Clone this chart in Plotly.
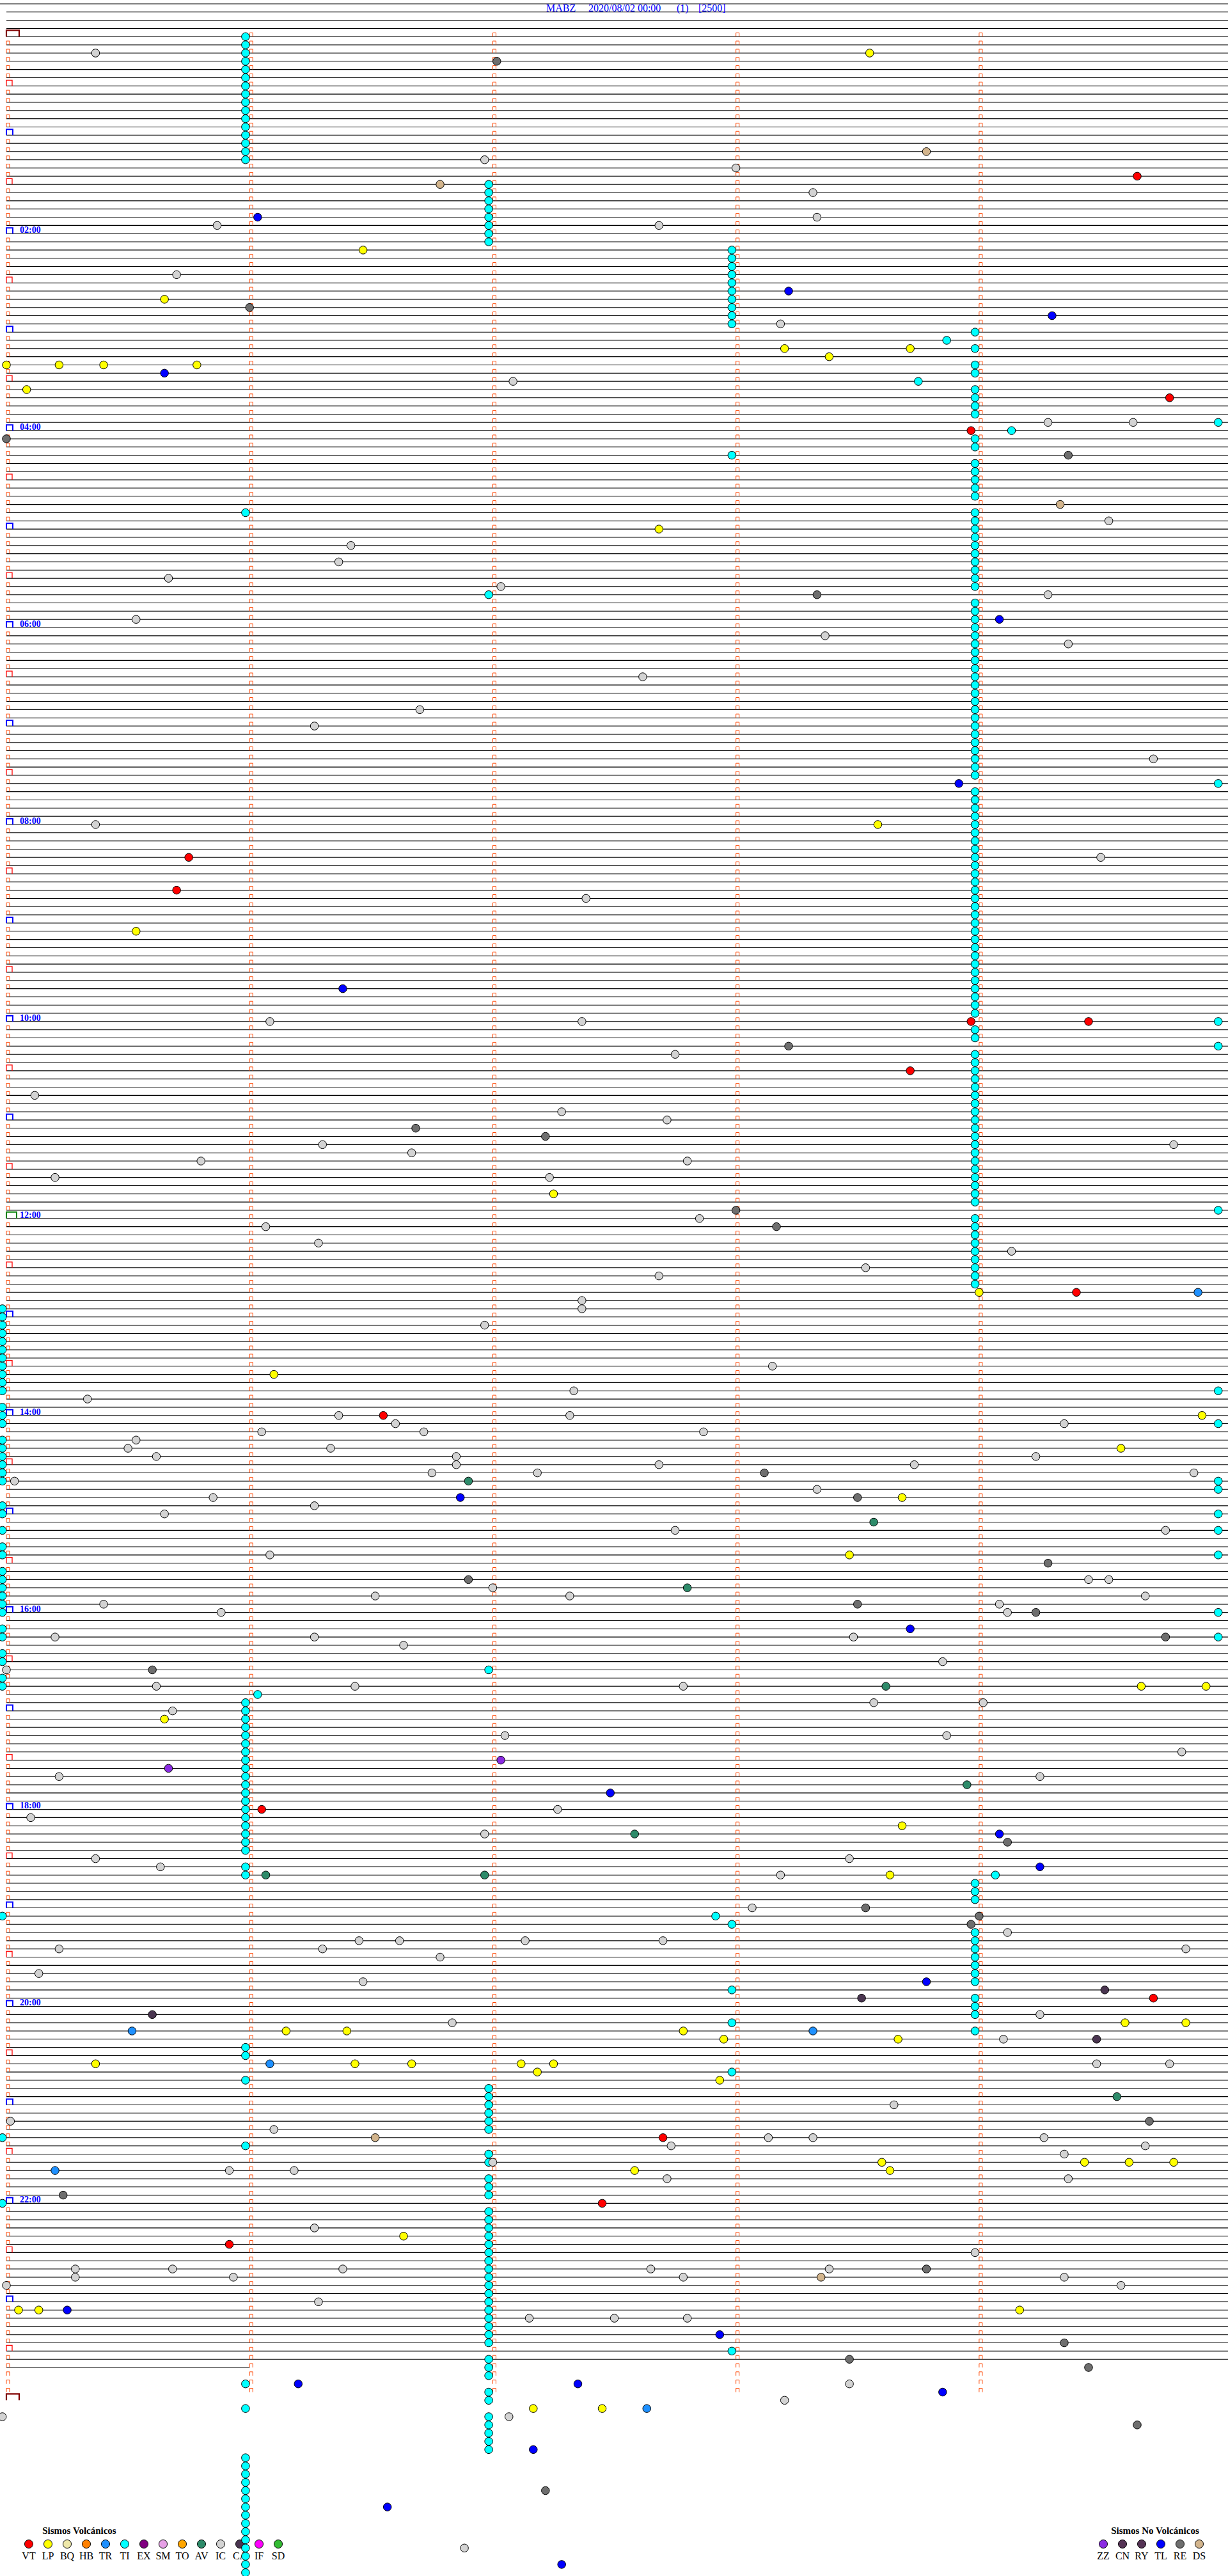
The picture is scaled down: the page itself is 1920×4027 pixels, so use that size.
import plotly.graph_objects as go

# ====================== DATA ======================
STATION = "MABZ"
DATE_LABEL = "2020/08/02 00:00"
CHANNEL_LABEL = "(1)"
SCALE_LABEL = "[2500]"

ROW_SECONDS = 300                       # one helicorder row = 5 minutes
MINUTE_MARKS = [0, 60, 120, 180, 240]   # minute ticks inside a row (s)
HOUR_LABELS = ["02:00", "04:00", "06:00", "08:00", "10:00", "12:00",
               "14:00", "16:00", "18:00", "20:00", "22:00"]
LAST_FULL_ROW = 283        # last complete trace row (23:35)
PARTIAL_ROW = 284          # trace stops inside this row
PARTIAL_ROW_END_SEC = 60
LAST_TICK_ROW = 287        # minute ticks drawn up to 23:55

VOLC_TYPES = ["VT", "LP", "BQ", "HB", "TR", "TI", "EX", "SM", "TO", "AV", "IC", "CA", "IF", "SD"]
NONVOLC_TYPES = ["ZZ", "CN", "RY", "TL", "RE", "DS"]
TYPE_COLORS = {
    "VT": "#FF0000", "LP": "#FFFF00", "BQ": "#EEE8AA", "HB": "#FF8000",
    "TR": "#1E90FF", "TI": "#00FFFF", "EX": "#800080", "SM": "#E6A0E6",
    "TO": "#FFA500", "AV": "#2E8B6A", "IC": "#D3D3D3", "CA": "#4A3550",
    "IF": "#FF00FF", "SD": "#33BB33",
    "ZZ": "#8A2BE2", "CN": "#553355", "RY": "#553355", "TL": "#0000FF",
    "RE": "#6E6E6E", "DS": "#D2B48C",
}

# events: (row index from 00:00 in 5-min rows, seconds inside the row)
EV_TI = [
    (0, 59), (1, 59), (2, 59), (3, 59), (4, 59), (5, 59), (6, 59), (7, 59),
    (8, 59), (9, 59), (10, 59), (11, 59), (12, 59), (13, 59), (14, 59), (15, 59),
    (18, 119), (19, 119), (20, 119), (21, 119), (22, 119), (23, 119), (24, 119), (25, 119),
    (26, 179), (27, 179), (28, 179), (29, 179), (30, 179), (31, 179), (32, 179), (33, 179),
    (34, 179), (35, 179),
    (36, 239), (37, 232), (38, 239), (40, 239), (41, 239), (42, 225), (43, 239), (44, 239),
    (45, 239), (46, 239), (47, 299), (48, 248), (49, 239), (50, 239), (51, 179), (52, 239),
    (53, 239), (54, 239), (55, 239), (56, 239), (58, 59), (58, 239), (59, 239), (60, 239),
    (61, 239), (62, 239), (63, 239), (64, 239), (65, 239), (66, 239), (67, 239), (68, 119),
    (69, 239), (70, 239), (71, 239), (72, 239), (73, 239), (74, 239), (75, 239), (76, 239),
    (77, 239), (78, 239), (79, 239), (80, 239), (81, 239), (82, 239), (83, 239), (84, 239),
    (85, 239), (86, 239), (87, 239), (88, 239), (89, 239), (90, 239), (91, 299), (92, 239),
    (93, 239), (94, 239), (95, 239), (96, 239), (97, 239), (98, 239), (99, 239), (100, 239),
    (101, 239), (102, 239), (103, 239), (104, 239), (105, 239), (106, 239), (107, 239),
    (108, 239), (109, 239), (110, 239), (111, 239), (112, 239), (113, 239), (114, 239),
    (115, 239), (116, 239), (117, 239), (118, 239), (119, 239), (120, 299), (121, 239),
    (122, 239), (123, 299), (124, 239), (125, 239), (126, 239), (127, 239), (128, 239),
    (129, 239), (130, 239), (131, 239), (132, 239), (133, 239), (134, 239), (135, 239),
    (136, 239), (137, 239), (138, 239), (139, 239), (140, 239), (141, 239), (142, 239),
    (143, 299), (144, 239), (145, 239), (146, 239), (147, 239), (148, 239), (149, 239),
    (150, 239), (151, 239), (152, 239),
    (155, -1), (156, -1), (157, -1), (158, -1), (159, -1), (160, -1), (161, -1), (162, -1),
    (163, -1), (164, -1), (165, -1), (165, 299), (167, -1), (168, -1), (169, -1), (169, 299),
    (171, -1), (172, -1), (173, -1), (174, -1), (175, -1), (176, -1), (176, 299), (177, 299),
    (179, -1), (180, -1), (180, 299), (182, -1), (182, 299), (184, -1), (185, -1), (185, 299),
    (187, -1), (188, -1), (189, -1), (190, -1), (191, -1), (192, -1), (192, 299), (194, -1),
    (195, -1), (195, 299), (197, -1), (198, -1), (199, 119), (200, -1), (201, -1), (202, 62),
    (203, 59), (204, 59), (205, 59), (206, 59), (207, 59), (208, 59), (209, 59), (210, 59),
    (211, 59), (212, 59), (213, 59), (214, 59), (215, 59), (216, 59), (217, 59), (218, 59),
    (219, 59), (220, 59), (221, 59), (223, 59), (224, 59), (224, 244), (225, 239), (226, 239),
    (227, 239), (229, -1), (229, 175), (230, 179), (231, 239), (232, 239), (233, 239),
    (234, 239), (235, 239), (236, 239), (237, 239), (238, 179), (239, 239), (240, 239),
    (241, 239), (242, 179), (243, 239), (245, 59), (246, 59), (248, 179), (249, 59),
    (250, 119), (251, 119), (252, 119), (253, 119), (254, 119), (255, 119), (256, -1),
    (257, 59), (258, 119), (259, 119), (261, 119), (262, 119), (263, 119), (264, -1),
    (265, 119), (266, 119), (267, 119), (268, 119), (269, 119), (270, 119), (271, 119),
    (272, 119), (273, 119), (274, 119), (275, 119), (276, 119), (277, 119), (278, 119),
    (279, 119), (280, 119), (281, 119), (282, 179), (283, 119), (284, 119), (285, 119),
    (286, 59), (287, 119), (288, 119), (289, 59), (290, 119), (291, 119), (292, 119),
    (293, 119), (294, 119), (295, 59), (296, 59), (297, 59), (298, 59), (299, 59),
    (300, 59), (301, 59), (302, 59), (303, 59), (304, 59), (305, 59), (306, 59), (307, 59),
    (308, 59), (309, 59),
]

EV_IC = [
    (2, 22), (15, 118), (16, 180), (19, 199), (22, 200), (23, 52), (23, 161), (29, 42),
    (35, 191), (42, 125), (47, 257), (47, 278), (59, 272), (62, 85), (64, 82), (66, 40),
    (67, 122), (68, 257), (71, 32), (73, 202), (74, 262), (78, 157), (82, 102), (84, 76),
    (88, 283), (96, 22), (100, 270), (105, 143), (120, 65), (120, 142), (124, 165), (129, 7),
    (131, 137), (132, 163), (135, 78), (135, 288), (136, 100), (137, 48), (137, 168),
    (139, 12), (139, 134), (144, 171), (145, 64), (147, 77), (148, 248), (150, 212),
    (151, 161), (154, 142), (155, 142), (157, 118), (162, 189), (165, 140), (166, 20),
    (168, 82), (168, 139), (169, 96), (169, 261), (170, 63), (170, 103), (170, 172),
    (171, 32), (172, 30), (172, 80), (173, 37), (173, 111), (173, 254), (174, 111),
    (174, 161), (174, 224), (175, 105), (175, 131), (175, 293), (176, 2), (177, 200),
    (178, 51), (179, 76), (180, 39), (182, 165), (182, 286), (185, 65), (188, 267),
    (188, 272), (189, 120), (190, 91), (190, 139), (190, 281), (191, 24), (191, 245),
    (192, 53), (192, 247), (195, 12), (195, 76), (195, 209), (196, 98), (198, 231),
    (199, 0), (201, 37), (201, 86), (201, 167), (203, 214), (203, 241), (204, 41),
    (207, 123), (207, 232), (209, 290), (212, 13), (212, 255), (216, 136), (217, 6),
    (219, 118), (222, 22), (222, 208), (223, 38), (224, 191), (228, 184), (231, 247),
    (232, 87), (232, 97), (232, 128), (232, 162), (233, 13), (233, 78), (233, 291),
    (234, 107), (236, 8), (237, 88), (241, 255), (242, 110), (244, 246), (247, 269),
    (247, 287), (252, 219), (254, 1), (255, 66), (256, 188), (256, 199), (256, 256),
    (257, 164), (257, 281), (258, 261), (259, 120), (260, 55), (260, 71), (261, 163),
    (261, 262), (267, 76), (270, 239), (272, 17), (272, 41), (272, 83), (272, 159),
    (272, 203), (273, 17), (273, 56), (273, 167), (273, 261), (274, 0), (274, 275),
    (276, 77), (278, 129), (278, 150), (278, 168), (286, 208), (288, 192), (290, -1),
    (290, 124), (306, 113),
]

EV_LP = [
    (2, 213), (26, 88), (32, 39), (38, 192), (38, 223), (39, 203), (40, 0), (40, 13),
    (40, 24), (40, 47), (43, 5), (60, 161), (96, 215), (109, 32), (141, 135), (153, 240),
    (163, 66), (168, 295), (172, 275), (178, 221), (185, 208), (201, 280), (201, 296),
    (205, 39), (218, 221), (224, 218), (242, 276), (242, 291), (243, 69), (243, 84),
    (243, 167), (244, 177), (244, 220), (247, 22), (247, 86), (247, 100), (247, 127),
    (247, 135), (248, 131), (249, 176), (259, 216), (259, 266), (259, 277), (259, 288),
    (260, 155), (260, 218), (268, 98), (277, 3), (277, 8), (277, 250), (289, 130), (289, 147),
]

EV_VT = [
    (17, 279), (44, 287), (48, 238), (100, 45), (104, 42), (120, 238), (120, 267),
    (126, 223), (153, 264), (168, 93), (216, 63), (239, 283), (256, 162), (264, 147), (269, 55),
]

EV_TL = [
    (22, 62), (31, 193), (34, 258), (41, 39), (71, 245), (91, 235), (116, 83), (178, 112),
    (194, 223), (214, 149), (219, 245), (223, 255), (237, 227), (277, 15), (280, 176),
    (286, 72), (286, 141), (287, 231), (294, 130), (301, 94), (308, 137),
]

EV_RE = [
    (3, 121), (33, 60), (49, 0), (51, 262), (68, 200), (123, 193), (133, 101), (134, 133),
    (143, 180), (145, 190), (175, 187), (178, 210), (186, 257), (188, 114), (191, 210),
    (192, 254), (195, 286), (199, 36), (220, 247), (228, 212), (229, 240), (230, 238),
    (254, 282), (263, 14), (272, 227), (281, 261), (283, 208), (284, 267), (291, 279), (299, 133),
]

EV_DS = [(14, 227), (18, 107), (57, 260), (256, 91), (273, 201)]
EV_AV = [(176, 114), (181, 214), (189, 168), (201, 217), (213, 237), (219, 155),
         (224, 64), (224, 118), (251, 274)]
EV_TR = [(153, 294), (243, 31), (243, 199), (247, 65), (260, 12), (289, 158)]
EV_ZZ = [(210, 122), (211, 40)]
EV_CA = [(238, 271), (239, 211), (241, 36), (244, 269)]

EVENTS = [("TI", EV_TI), ("IC", EV_IC), ("RE", EV_RE), ("DS", EV_DS), ("AV", EV_AV),
          ("TR", EV_TR), ("LP", EV_LP), ("VT", EV_VT), ("TL", EV_TL), ("ZZ", EV_ZZ),
          ("CA", EV_CA)]

# ====================== GEOMETRY ======================
W, H = 1920, 4027
X0_PX, PX_PER_SEC = 10.0, 6.337
Y0_PX, PX_PER_ROW = 57.3, 12.83
XMIN = -X0_PX / PX_PER_SEC
XMAX = (W - X0_PX) / PX_PER_SEC
RTOP = -Y0_PX / PX_PER_ROW
RBOT = (H - Y0_PX) / PX_PER_ROW


def sec_of_px(xp):
    return (xp - X0_PX) / PX_PER_SEC


def row_of_px(yp):
    return (yp - Y0_PX) / PX_PER_ROW


fig = go.Figure()

# ---- trace lines (flat helicorder rows) ----
lx, ly = [XMIN, XMAX, None], [-4, -4, None]
for r in range(-3, LAST_FULL_ROW + 1):
    lx += [0, XMAX, None]
    ly += [r, r, None]
lx += [0, PARTIAL_ROW_END_SEC, None]
ly += [PARTIAL_ROW, PARTIAL_ROW, None]
fig.add_trace(go.Scatter(x=lx, y=ly, mode="lines", line=dict(color="black", width=1.1),
                         hoverinfo="skip", showlegend=False))


def open_boxes(items, w_px, h_px):
    xs, ys = [], []
    w, h = w_px / PX_PER_SEC, h_px / PX_PER_ROW
    for r, s0 in items:
        xs += [s0, s0, s0 + w, s0 + w, None]
        ys += [r, r - h, r - h, r, None]
    return xs, ys


rows_all = list(range(0, LAST_TICK_ROW + 1))
small, half, hour, noon, midnight = [], [], [], [], []
for r in rows_all:
    for m in MINUTE_MARKS:
        if m == 0:
            if r == 0:
                midnight.append((r, m))
            elif r == 144:
                noon.append((r, m))
            elif r % 12 == 0:
                hour.append((r, m))
            elif r % 12 == 6:
                half.append((r, m))
            else:
                small.append((r, m))
        else:
            small.append((r, m))
midnight.append((LAST_TICK_ROW + 1, 0))

for items, col, wpx, hpx, lw in [
    (small, "#FF4500", 5, 6, 1.0),
    (half, "#FF0000", 9, 9, 1.3),
    (hour, "#0000FF", 10, 9, 2.0),
    (noon, "#008000", 16, 10, 2.0),
    (midnight, "#800000", 20, 10, 2.2),
]:
    bx, by = open_boxes(items, wpx, hpx)
    fig.add_trace(go.Scatter(x=bx, y=by, mode="lines", line=dict(color=col, width=lw),
                             hoverinfo="skip", showlegend=False))

# ---- legend (drawn under the events) ----
LEG_Y_TITLE, LEG_Y_DOT, LEG_Y_TXT = 3957.5, 3977, 3997
for types, x0, title, tx in [(VOLC_TYPES, 45, "Sismos Volcánicos", 124),
                             (NONVOLC_TYPES, 1725, "Sismos No Volcánicos", 1806)]:
    xs = [sec_of_px(x0 + 30 * i) for i in range(len(types))]
    fig.add_trace(go.Scatter(
        x=xs, y=[row_of_px(LEG_Y_DOT)] * len(types), mode="markers",
        marker=dict(size=13, color=[TYPE_COLORS[t] for t in types],
                    line=dict(color="black", width=1)),
        hoverinfo="skip", showlegend=False, cliponaxis=False))
    fig.add_trace(go.Scatter(
        x=xs, y=[row_of_px(LEG_Y_TXT)] * len(types), mode="text", text=types,
        textposition="middle center",
        textfont=dict(family="Liberation Serif", size=16, color="black"),
        hoverinfo="skip", showlegend=False, cliponaxis=False))
    fig.add_trace(go.Scatter(
        x=[sec_of_px(tx)], y=[row_of_px(LEG_Y_TITLE)], mode="text",
        text=["<b>" + title + "</b>"], textposition="middle center",
        textfont=dict(family="Liberation Serif", size=15, color="black"),
        hoverinfo="skip", showlegend=False, cliponaxis=False))

# ---- events ----
for typ, evs in EVENTS:
    fig.add_trace(go.Scatter(
        x=[s for r, s in evs], y=[r for r, s in evs], mode="markers",
        marker=dict(size=12.5, color=TYPE_COLORS[typ], line=dict(color="black", width=1)),
        name=typ, hoverinfo="skip", showlegend=False))

# ---- hour labels ----
ann = []
for lab in HOUR_LABELS:
    r = int(lab[:2]) * (3600 // ROW_SECONDS)
    ann.append(dict(x=sec_of_px(30), y=r - 5.6 / PX_PER_ROW, xref="x", yref="y",
                    text="<b>" + lab + "</b>", showarrow=False, xanchor="left",
                    yanchor="middle", borderpad=0,
                    font=dict(family="Liberation Serif", size=14, color="#0000FF")))

# ---- title pieces ----
for txt, xp in [(STATION, 853), (DATE_LABEL, 919), (CHANNEL_LABEL, 1057), (SCALE_LABEL, 1091)]:
    ann.append(dict(x=sec_of_px(xp), y=row_of_px(12.6), xref="x", yref="y", text=txt,
                    showarrow=False, xanchor="left", yanchor="middle", borderpad=0,
                    font=dict(family="Liberation Serif", size=16, color="#0000FF")))

fig.update_layout(
    width=W, height=H, margin=dict(l=0, r=0, t=0, b=0, pad=0),
    paper_bgcolor="white", plot_bgcolor="white", showlegend=False,
    xaxis=dict(range=[XMIN, XMAX], visible=False, fixedrange=True),
    yaxis=dict(range=[RBOT, RTOP], visible=False, fixedrange=True),
    annotations=ann, hovermode=False,
)

fig.write_html("out.html", config={"displayModeBar": False, "responsive": False},
               post_script="document.body.style.margin='0px';document.body.style.overflow='hidden';")
